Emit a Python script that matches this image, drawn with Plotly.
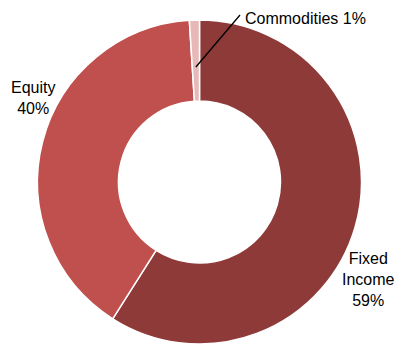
import math
import plotly.graph_objects as go

# Portfolio allocation
labels = ["Fixed Income", "Equity", "Commodities"]
values = [59, 40, 1]
colors = ["#8E3A39", "#C0504D", "#E6B9B8"]
label_text = ["Fixed<br>Income<br>59%", "Equity<br>40%", "Commodities 1%"]

W, H = 399, 345
CX, CY, R = 199.5, 182.0, 162.0  # pie centre and outer radius in pixels


def px(x):
    return x / W


def py(y):
    return 1 - y / H


fig = go.Figure()
fig.add_trace(go.Pie(
    labels=labels,
    values=values,
    hole=0.5,
    sort=False,
    direction="clockwise",
    rotation=0,
    marker=dict(colors=colors, line=dict(color="white", width=1.5)),
    textinfo="none",
    hoverinfo="label+percent",
    showlegend=False,
    domain=dict(x=[px(CX - R), px(CX + R)], y=[py(CY + R), py(CY - R)]),
))

font = dict(family="Liberation Sans, Arial, sans-serif", size=16, color="#000000")

# Slice labels
fig.add_annotation(x=px(368), y=py(279), xref="paper", yref="paper",
                   xanchor="center", yanchor="middle",
                   text=label_text[0], showarrow=False, font=font, align="center")
fig.add_annotation(x=px(33), y=py(98), xref="paper", yref="paper",
                   xanchor="center", yanchor="middle",
                   text=label_text[1], showarrow=False, font=font, align="center")
fig.add_annotation(x=px(243), y=py(19), xref="paper", yref="paper",
                   xanchor="left", yanchor="middle",
                   text=label_text[2], showarrow=False, font=font, align="left")

# Leader line from the commodities slice to its label
total = sum(values)
mid = 360 * (total - values[2] / 2) / total
ang = math.radians(mid)
r0 = R * 0.71
x0 = CX + r0 * math.sin(ang)
y0 = CY - r0 * math.cos(ang)
fig.add_shape(type="line", xref="paper", yref="paper",
              x0=px(x0), y0=py(y0), x1=px(240), y1=py(15),
              line=dict(color="black", width=1.3))

fig.update_layout(
    width=W, height=H,
    margin=dict(l=0, r=0, t=0, b=0),
    paper_bgcolor="white",
    plot_bgcolor="white",
)

fig.write_html("out.html")
